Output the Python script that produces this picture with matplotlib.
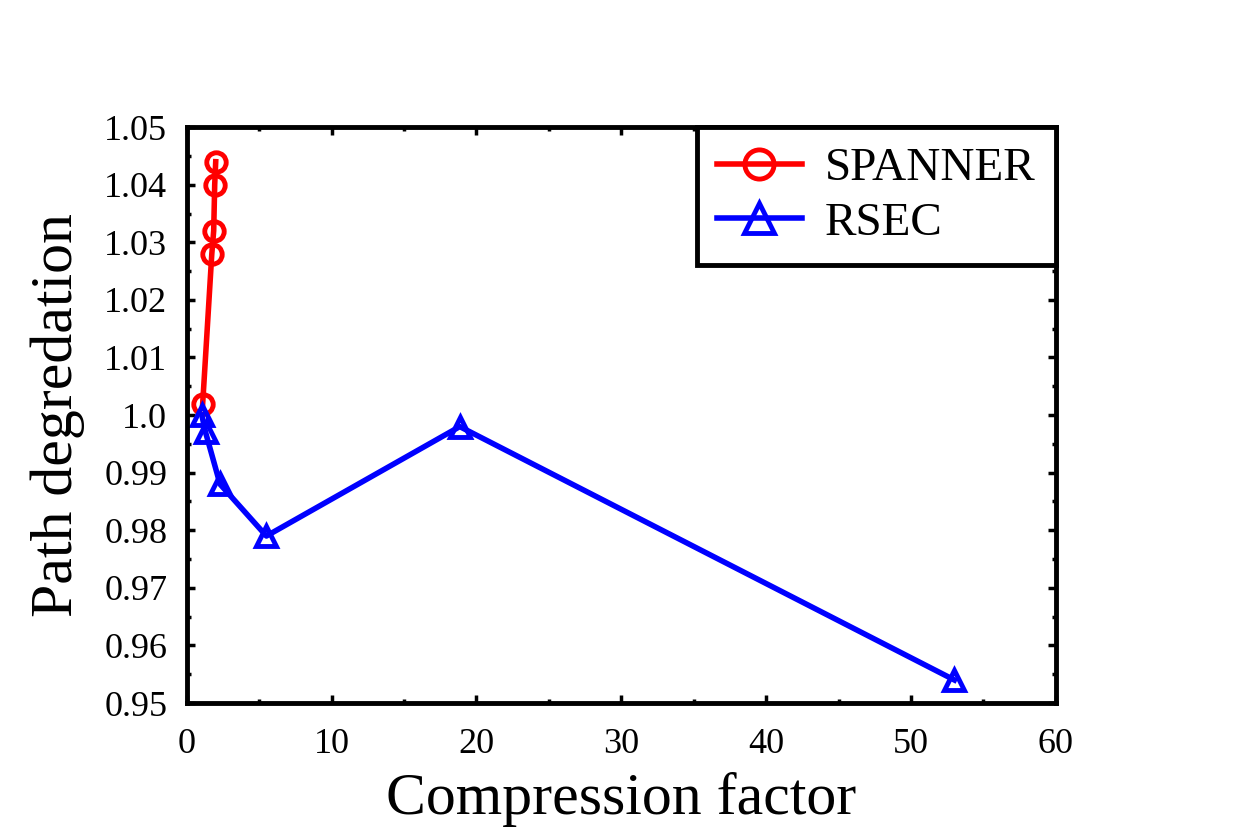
import matplotlib
matplotlib.use("Agg")
import matplotlib.pyplot as plt
from matplotlib.ticker import MultipleLocator

# Data.
spanner_x = [1.1, 1.73, 1.86, 1.93, 2.0]
spanner_y = [1.002, 1.028, 1.032, 1.040, 1.044]

rsec_x = [1.04, 1.3, 2.3, 5.5, 18.85, 53.0]
rsec_y = [1.000, 0.997, 0.988, 0.979, 0.998, 0.954]

x_ticks = [0, 10, 20, 30, 40, 50, 60]
y_ticks = [0.95, 0.96, 0.97, 0.98, 0.99, 1.0, 1.01, 1.02, 1.03, 1.04, 1.05]
y_tick_labels = ["0.95", "0.96", "0.97", "0.98", "0.99", "1.0",
                 "1.01", "1.02", "1.03", "1.04", "1.05"]

plt.rcParams["font.family"] = ["Liberation Serif", "DejaVu Serif"]

fig = plt.figure(figsize=(12.45, 8.31), dpi=100)
ax = fig.add_axes([0.150, 0.154, 0.698, 0.693])

ax.plot(spanner_x, spanner_y, color="red", lw=4, marker="o", ms=14,
        mfc="none", mec="red", mew=3.5, label="SPANNER")
ax.plot(rsec_x, rsec_y, color="blue", lw=4, marker="^", ms=14,
        mfc="none", mec="blue", mew=3.5, label="RSEC")

ax.set_xlim(0, 60)
ax.set_ylim(0.95, 1.05)
ax.set_xticks(x_ticks)
ax.set_yticks(y_ticks)
ax.set_yticklabels(y_tick_labels)
ax.xaxis.set_minor_locator(MultipleLocator(5))
ax.yaxis.set_minor_locator(MultipleLocator(0.005))
ax.tick_params(which="both", direction="in", top=True, right=True,
               width=2.5, labelsize=26)
ax.tick_params(which="major", length=6, pad=14)
ax.tick_params(which="minor", length=3)
ax.tick_params(axis="x", which="major", pad=18)
for sp in ax.spines.values():
    sp.set_linewidth(3.5)

ax.set_xlabel("Compression factor", fontsize=43, labelpad=8)
ax.set_ylabel("Path degredation", fontsize=43, labelpad=14)

leg = ax.legend(loc="upper right", fontsize=34, frameon=True, fancybox=False,
                framealpha=1, borderaxespad=0, handlelength=1.8,
                borderpad=0.42, labelspacing=0.25, handletextpad=0.5,
                markerscale=1.5)
leg.get_frame().set_edgecolor("black")
leg.get_frame().set_linewidth(3.5)

fig.savefig("out.png", dpi=100)
